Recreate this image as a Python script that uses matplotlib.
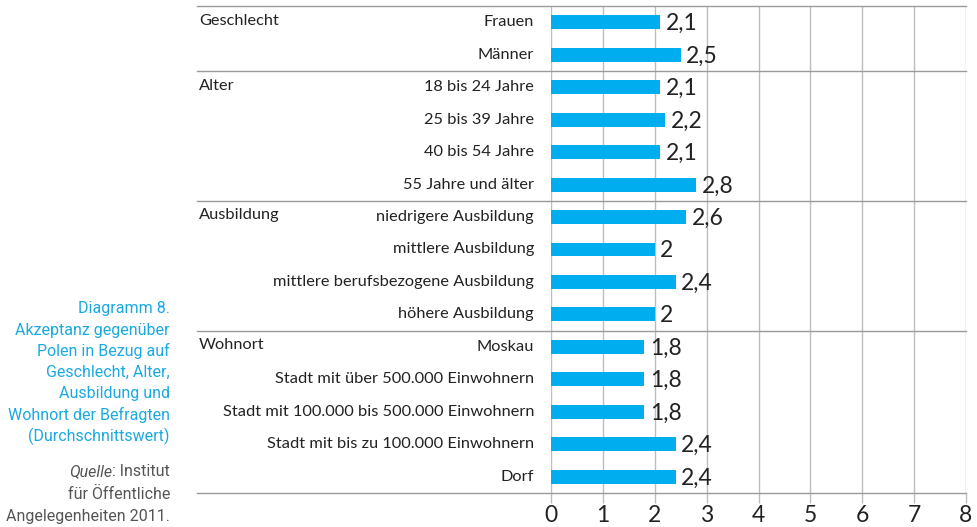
import matplotlib
matplotlib.use("Agg")
import matplotlib.pyplot as plt
import matplotlib.transforms as mtransforms
from matplotlib.lines import Line2D

categories = ["Frauen", "Männer",
              "18 bis 24 Jahre", "25 bis 39 Jahre", "40 bis 54 Jahre", "55 Jahre und älter",
              "niedrigere Ausbildung", "mittlere Ausbildung",
              "mittlere berufsbezogene Ausbildung", "höhere Ausbildung",
              "Moskau", "Stadt mit über 500.000 Einwohnern",
              "Stadt mit 100.000 bis 500.000 Einwohnern",
              "Stadt mit bis zu 100.000 Einwohnern", "Dorf"]
values = [2.1, 2.5, 2.1, 2.2, 2.1, 2.8, 2.6, 2.0, 2.4, 2.0, 1.8, 1.8, 1.8, 2.4, 2.4]
groups = ["Geschlecht", "Alter", "Ausbildung", "Wohnort"]
group_sizes = [2, 4, 4, 5]
xticks = [0, 1, 2, 3, 4, 5, 6, 7, 8]

caption = ["Diagramm 8.", "Akzeptanz gegenüber", "Polen in Bezug auf",
           "Geschlecht, Alter,", "Ausbildung und", "Wohnort der Befragten",
           "(Durchschnittswert)"]

W, H = 978, 527
fig = plt.figure(figsize=(W / 100, H / 100), dpi=100)
ax = fig.add_axes([551 / W, 1 - 493 / H, (966 - 551) / W, (493 - 6) / H])

bar_color = "#00AEEF"
grid_color = "#BDBDBD"
sep_color = "#9A9A9A"
font = ["Lato", "DejaVu Sans"]

ypos = list(range(len(categories)))
ax.barh(ypos, values, height=0.43, color=bar_color, zorder=3)
for y, v in zip(ypos, values):
    txt = f"{v:g}".replace(".", ",")
    ax.annotate(txt, xy=(v, y), xytext=(4, -1), textcoords="offset points",
                va="center", ha="left", fontsize=16.5,
                color="#222222", family=font, zorder=4)

ax.set_xlim(0, 8)
ax.set_ylim(len(categories) - 0.5, -0.5)
ax.set_xticks(xticks)
ax.set_xticklabels([str(t) for t in xticks], fontsize=16.5, color="#222222", family=font)
ax.tick_params(axis="x", length=7, width=1, color=grid_color, pad=2)
ax.set_yticks([])
for t in xticks:
    ax.axvline(t, color=grid_color, lw=1, zorder=1)
for s in ax.spines.values():
    s.set_visible(False)

# category labels
for y, c in zip(ypos, categories):
    ax.text(-17 / 51.9, y, c, ha="right", va="center", fontsize=11.8,
            color="#222222", family=font)

# separators and group labels
trans = mtransforms.blended_transform_factory(fig.transFigure, ax.transData)
x_left = 197 / W
x_right = 966 / W
start = 0
bounds = [-0.5]
for g, n in zip(groups, group_sizes):
    ax.text(199 / W, start - 0.05, g, transform=trans, ha="left", va="center",
            fontsize=11.8, color="#222222", family=font)
    start += n
    bounds.append(start - 0.5)
for b in bounds:
    ln = Line2D([x_left, x_right], [b, b], transform=trans, color=sep_color,
                lw=1, clip_on=False, zorder=2)
    ax.add_line(ln)

# caption
cap_font = ["Roboto", "DejaVu Sans"]
y0 = 309
for i, line in enumerate(caption):
    fig.text(170 / W, 1 - (y0 + i * 21.2) / H, line, ha="right", va="center",
             fontsize=11.5, color="#1BA9E1", family=cap_font)
src_y = [472, 494, 516]
t1 = fig.text(170 / W, 1 - src_y[0] / H, ": Institut", ha="right", va="center",
              fontsize=11.5, color="#555555", family=cap_font)
fig.canvas.draw()
bb = t1.get_window_extent()
fig.text(bb.x0 / W, 1 - src_y[0] / H, "Quelle", ha="right", va="center",
         fontsize=11.5, color="#555555", family=cap_font, style="italic")
fig.text(170 / W, 1 - src_y[1] / H, "für Öffentliche", ha="right", va="center",
         fontsize=11.5, color="#555555", family=cap_font)
fig.text(170 / W, 1 - src_y[2] / H, "Angelegenheiten 2011.", ha="right", va="center",
         fontsize=11.5, color="#555555", family=cap_font)

fig.savefig("out.png", dpi=100)
